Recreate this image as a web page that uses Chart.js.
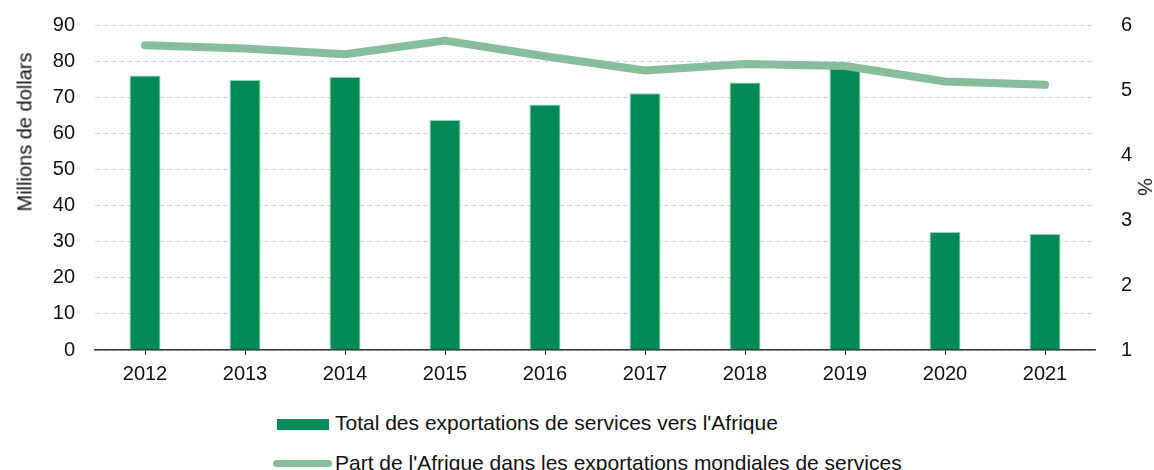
<!DOCTYPE html>
<html>
<head>
<meta charset="utf-8">
<script src="https://cdn.jsdelivr.net/npm/chart.js@4"></script>
<style>
  html, body { margin: 0; padding: 0; background: #fff; }
  #wrap { position: relative; width: 1154px; height: 470px; overflow: hidden; font-family: "Liberation Sans", Arial, sans-serif; color: #111; }
  #c { position: absolute; left: 0; top: 0; }
  .leg { position: absolute; font-size: 21px; white-space: nowrap; line-height: 21px; }
  .sw { position: absolute; }
  .ttl { position: absolute; font-size: 20px; line-height: 20px; white-space: nowrap; transform-origin: center center; }
</style>
</head>
<body>
<div id="wrap">
  <canvas id="c" width="1154" height="400"></canvas>
  <div class="ttl" id="tl" style="left:0; top:0;">Millions de dollars</div>
  <div class="ttl" id="tr" style="left:0; top:0;">%</div>
  <div class="sw" style="left:277px; top:419px; width:52px; height:11px; background:#008a56;"></div>
  <div class="leg" style="left:335px; top:412px;">Total des exportations de services vers l'Afrique</div>
  <div class="sw" style="left:273px; top:460px; width:59px; height:7px; border-radius:4px; background:#86bd9a;"></div>
  <div class="leg" style="left:335px; top:452px;">Part de l'Afrique dans les exportations mondiales de services</div>
</div>
<script>
const years = ['2012','2013','2014','2015','2016','2017','2018','2019','2020','2021'];
const exportsAfrique = [76.0, 74.8, 75.6, 63.7, 68.0, 71.1, 74.1, 78.0, 32.7, 32.1];
const partAfrique = [5.69, 5.64, 5.55, 5.76, 5.52, 5.30, 5.40, 5.37, 5.13, 5.08];
const leftTicks = [0,10,20,30,40,50,60,70,80,90];
const rightTicks = [1,2,3,4,5,6];

function placeTitle(id, cx, cy, deg) {
  const el = document.getElementById(id);
  const w = el.offsetWidth, h = el.offsetHeight;
  el.style.left = (cx - w / 2) + 'px';
  el.style.top = (cy - h / 2) + 'px';
  el.style.transform = 'rotate(' + deg + 'deg)';
}
placeTitle('tl', 24, 132, -90);
placeTitle('tr', 1145, 187, 90);

const font = { family: '"Liberation Sans", Arial, sans-serif', size: 20 };
const gridColor = '#cdd8ea';

new Chart(document.getElementById('c'), {
  data: {
    labels: years,
    datasets: [
      {
        type: 'line',
        label: "Part de l'Afrique dans les exportations mondiales de services",
        data: partAfrique,
        yAxisID: 'y1',
        borderColor: '#86bd9a',
        backgroundColor: '#86bd9a',
        borderWidth: 8,
        borderCapStyle: 'round',
        borderJoinStyle: 'round',
        pointRadius: 0,
        tension: 0,
        order: 0
      },
      {
        type: 'bar',
        label: "Total des exportations de services vers l'Afrique",
        data: exportsAfrique,
        yAxisID: 'y',
        backgroundColor: '#008a56',
        borderColor: '#8fd0ae',
        borderWidth: 1,
        borderSkipped: 'bottom',
        barPercentage: 0.31,
        categoryPercentage: 1.0,
        order: 1
      }
    ]
  },
  options: {
    responsive: false,
    animation: false,
    layout: { padding: { top: 25, bottom: 0, left: 0, right: 0 } },
    plugins: { legend: { display: false }, tooltip: { enabled: false } },
    scales: {
      x: {
        offset: true,
        grid: { display: true, drawOnChartArea: false, offset: false, color: '#333', tickLength: 5, tickColor: '#333' },
        border: { display: true, color: '#333', width: 1.5 },
        ticks: { font: font, color: '#111', padding: 7 },
        afterFit: s => { s.height = 50; s.paddingLeft = 0; s.paddingRight = 0; }
      },
      y: {
        position: 'left',
        min: 0, max: 90,
        afterBuildTicks: s => { s.ticks = leftTicks.map(v => ({ value: v })); },
        grid: { color: gridColor, lineWidth: 1, drawTicks: false, tickLength: 0 },
        border: { display: false, dash: [5, 3] },
        ticks: { font: font, color: '#111', padding: 20 },
        afterFit: s => { s.width = 95; s.paddingTop = 0; s.paddingBottom = 0; }
      },
      y1: {
        position: 'right',
        min: 1, max: 6,
        afterBuildTicks: s => { s.ticks = rightTicks.map(v => ({ value: v })); },
        grid: { display: false, drawOnChartArea: false },
        border: { display: false },
        ticks: { font: font, color: '#111', padding: 18 },
        afterFit: s => { s.width = 59; s.paddingTop = 0; s.paddingBottom = 0; }
      }
    }
  }
});
</script>
</body>
</html>
